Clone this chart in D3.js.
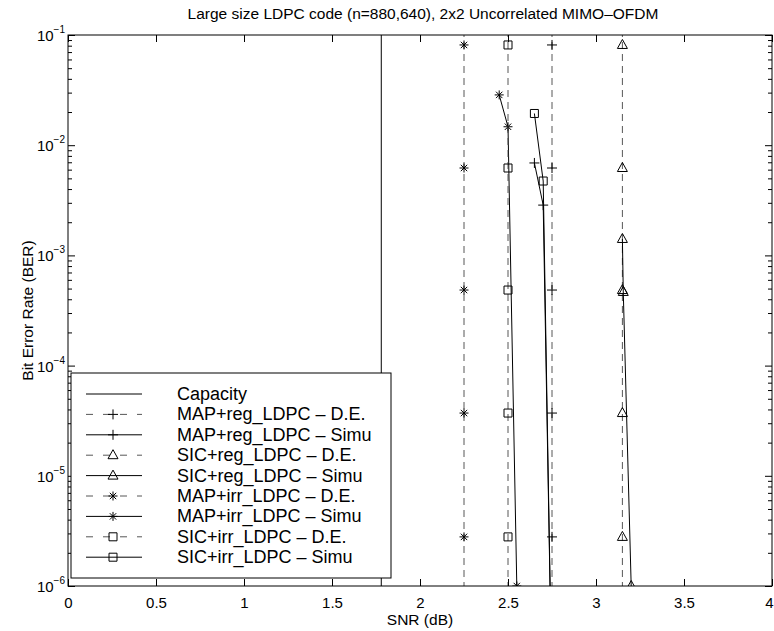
<!DOCTYPE html>
<html>
<head>
<meta charset="utf-8">
<script src="https://cdn.jsdelivr.net/npm/d3@7"></script>
<style>
  body { margin: 0; background: #fff; }
  svg { font-family: "Liberation Sans", Arial, sans-serif; }
</style>
</head>
<body>
<svg id="chart" width="774" height="631"></svg>
<script>
// data
var xTicks = [0, 0.5, 1, 1.5, 2, 2.5, 3, 3.5, 4];
var yDecades = [-6, -5, -4, -3, -2, -1];

var capacitySNR = 1.78;

// density evolution thresholds (vertical dashed lines)
var deBER = [1.06, 0.0812, 0.00621, 4.85e-4, 3.71e-5, 2.79e-6, 2.13e-7];
var mapRegDE = 2.75;
var sicRegDE = 3.15;
var mapIrrDE = 2.25;
var sicIrrDE = 2.5;

// simulations
var mapRegSimSNR = [2.65, 2.7, 2.75];
var mapRegSimBER = [0.0069, 0.00286, 1e-7];
var sicRegSimSNR = [3.15, 3.155, 3.2];
var sicRegSimBER = [0.00141, 4.66e-4, 1e-6];
var mapIrrSimSNR = [2.45, 2.5, 2.55];
var mapIrrSimBER = [0.0286, 0.0147, 1e-6];
var sicIrrSimSNR = [2.65, 2.7, 2.75];
var sicIrrSimBER = [0.0194, 0.00473, 1e-7];

var legendLabels = ["Capacity", "MAP+reg_LDPC \u2013 D.E.", "MAP+reg_LDPC \u2013 Simu",
  "SIC+reg_LDPC \u2013 D.E.", "SIC+reg_LDPC \u2013 Simu", "MAP+irr_LDPC \u2013 D.E.",
  "MAP+irr_LDPC \u2013 Simu", "SIC+irr_LDPC \u2013 D.E.", "SIC+irr_LDPC \u2013 Simu"];

var svg = d3.select("#chart");
var L = 68, R = 772, T = 35, B = 586;

var x = d3.scaleLinear().domain([0, 4]).range([L, R]);
var y = d3.scaleLog().domain([1e-6, 1e-1]).range([B, T]);

// marker shapes, unfilled like matlab
var markers = {
  plus: "M-5,0H5M0,-5V5",
  star: "M-4.5,0H4.5M0,-4.5V4.5M-3.2,-3.2L3.2,3.2M-3.2,3.2L3.2,-3.2",
  square: "M-4,-4H4V4H-4Z",
  tri: "M0,-5.5L5,3.5L-5,3.5Z",
  none: ""
};

svg.append("defs").append("clipPath").attr("id", "plotclip")
  .append("rect").attr("x", L).attr("y", T).attr("width", R - L).attr("height", B - T);

var plot = svg.append("g").attr("clip-path", "url(#plotclip)");

function series(xs, ys, dashed, marker) {
  var pts = xs.map(function(d, i) { return [x(d), y(ys[i])]; });
  plot.append("path")
    .attr("d", d3.line()(pts))
    .attr("fill", "none")
    .attr("stroke", dashed ? "#444" : "#000")
    .attr("stroke-width", dashed ? 0.9 : 1)
    .attr("stroke-dasharray", dashed ? "7,5" : null);
  plot.selectAll(null).data(pts).enter().append("path")
    .attr("d", markers[marker])
    .attr("transform", function(p) { return "translate(" + p[0] + "," + p[1] + ")"; })
    .attr("fill", "none")
    .attr("stroke", "#000")
    .attr("stroke-width", 1);
}

function deLine(snr, marker) {
  series(deBER.map(function() { return snr; }), deBER, true, marker);
}

// capacity
series([capacitySNR, capacitySNR], [1, 1e-7], false, "none");
deLine(mapRegDE, "plus");
series(mapRegSimSNR, mapRegSimBER, false, "plus");
deLine(sicRegDE, "tri");
series(sicRegSimSNR, sicRegSimBER, false, "tri");
deLine(mapIrrDE, "star");
series(mapIrrSimSNR, mapIrrSimBER, false, "star");
deLine(sicIrrDE, "square");
series(sicIrrSimSNR, sicIrrSimBER, false, "square");

// axes box
svg.append("rect").attr("x", L).attr("y", T).attr("width", R - L).attr("height", B - T)
  .attr("fill", "none").attr("stroke", "#000").attr("stroke-width", 1);

// x axis ticks (inward, top and bottom)
var xAxisB = d3.axisBottom(x).tickValues(xTicks).tickSizeInner(-7).tickSizeOuter(0)
  .tickPadding(11).tickFormat(d3.format("~g"));
var gx = svg.append("g").attr("transform", "translate(0," + B + ")").call(xAxisB);
gx.select(".domain").remove();
gx.selectAll("text").attr("font-size", 15).attr("fill", "#000")
  .attr("font-family", "Liberation Sans, Arial, sans-serif")
  .attr("dx", function(d) { return d === 4 ? -3 : 0; });
var xAxisT = d3.axisTop(x).tickValues(xTicks).tickSizeInner(-7).tickSizeOuter(0).tickFormat("");
var gxt = svg.append("g").attr("transform", "translate(0," + T + ")").call(xAxisT);
gxt.select(".domain").remove();

// y ticks: majors at decades, minors 2..9
var minor = [];
yDecades.forEach(function(e) {
  if (e < -1) for (var k = 2; k <= 9; k++) minor.push(k * Math.pow(10, e));
});
var majors = yDecades.map(function(e) { return Math.pow(10, e); });

var yAxisL = d3.axisLeft(y).tickValues(majors).tickSizeInner(-7).tickSizeOuter(0).tickFormat("");
var gyl = svg.append("g").attr("transform", "translate(" + L + ",0)").call(yAxisL);
gyl.select(".domain").remove();
var yAxisR = d3.axisRight(y).tickValues(majors).tickSizeInner(-7).tickSizeOuter(0).tickFormat("");
var gyr = svg.append("g").attr("transform", "translate(" + R + ",0)").call(yAxisR);
gyr.select(".domain").remove();
var gyml = svg.append("g").attr("transform", "translate(" + L + ",0)")
  .call(d3.axisLeft(y).tickValues(minor).tickSizeInner(-4).tickSizeOuter(0).tickFormat(""));
gyml.select(".domain").remove();
var gymr = svg.append("g").attr("transform", "translate(" + R + ",0)")
  .call(d3.axisRight(y).tickValues(minor).tickSizeInner(-4).tickSizeOuter(0).tickFormat(""));
gymr.select(".domain").remove();

// y tick labels 10^e
var ylab = svg.append("g").selectAll("text").data(yDecades).enter().append("text")
  .attr("x", 65).attr("y", function(e) { return y(Math.pow(10, e)) + 6; })
  .attr("text-anchor", "end").attr("font-size", 15).attr("fill", "#000");
ylab.append("tspan").text("10");
ylab.append("tspan").attr("font-size", 10).attr("dy", -8)
  .text(function(e) { return "\u2212" + (-e); });

// titles
svg.append("text").attr("x", 423).attr("y", 19).attr("text-anchor", "middle")
  .attr("font-size", 15.5).text("Large size LDPC code (n=880,640), 2x2 Uncorrelated MIMO\u2013OFDM");
svg.append("text").attr("x", (L + R) / 2).attr("y", 625).attr("text-anchor", "middle")
  .attr("font-size", 15.5).text("SNR (dB)");
svg.append("text").attr("transform", "translate(33," + ((T + B) / 2) + ") rotate(-90)")
  .attr("text-anchor", "middle").attr("font-size", 15.5).text("Bit Error Rate (BER)");

// legend
var legX = 71, legY = 373, legW = 320, legH = 205, rowH = 20.4;
var leg = svg.append("g");
leg.append("rect").attr("x", legX).attr("y", legY).attr("width", legW).attr("height", legH)
  .attr("fill", "#fff").attr("stroke", "#000").attr("stroke-width", 1);
var legMarkers = ["none", "plus", "plus", "tri", "tri", "star", "star", "square", "square"];
legendLabels.forEach(function(lbl, i) {
  var ry = legY + 21 + i * rowH;
  var dashed = i % 2 === 1;
  leg.append("line").attr("x1", 86).attr("x2", 142).attr("y1", ry).attr("y2", ry)
    .attr("stroke", dashed ? "#444" : "#000").attr("stroke-width", dashed ? 0.9 : 1)
    .attr("stroke-dasharray", dashed ? "7,10" : null);
  leg.append("path").attr("d", markers[legMarkers[i]])
    .attr("transform", "translate(113," + ry + ")")
    .attr("fill", "none").attr("stroke", "#000");
  leg.append("text").attr("x", 177).attr("y", ry + 6).attr("font-size", 18).text(lbl);
});
</script>
</body>
</html>
